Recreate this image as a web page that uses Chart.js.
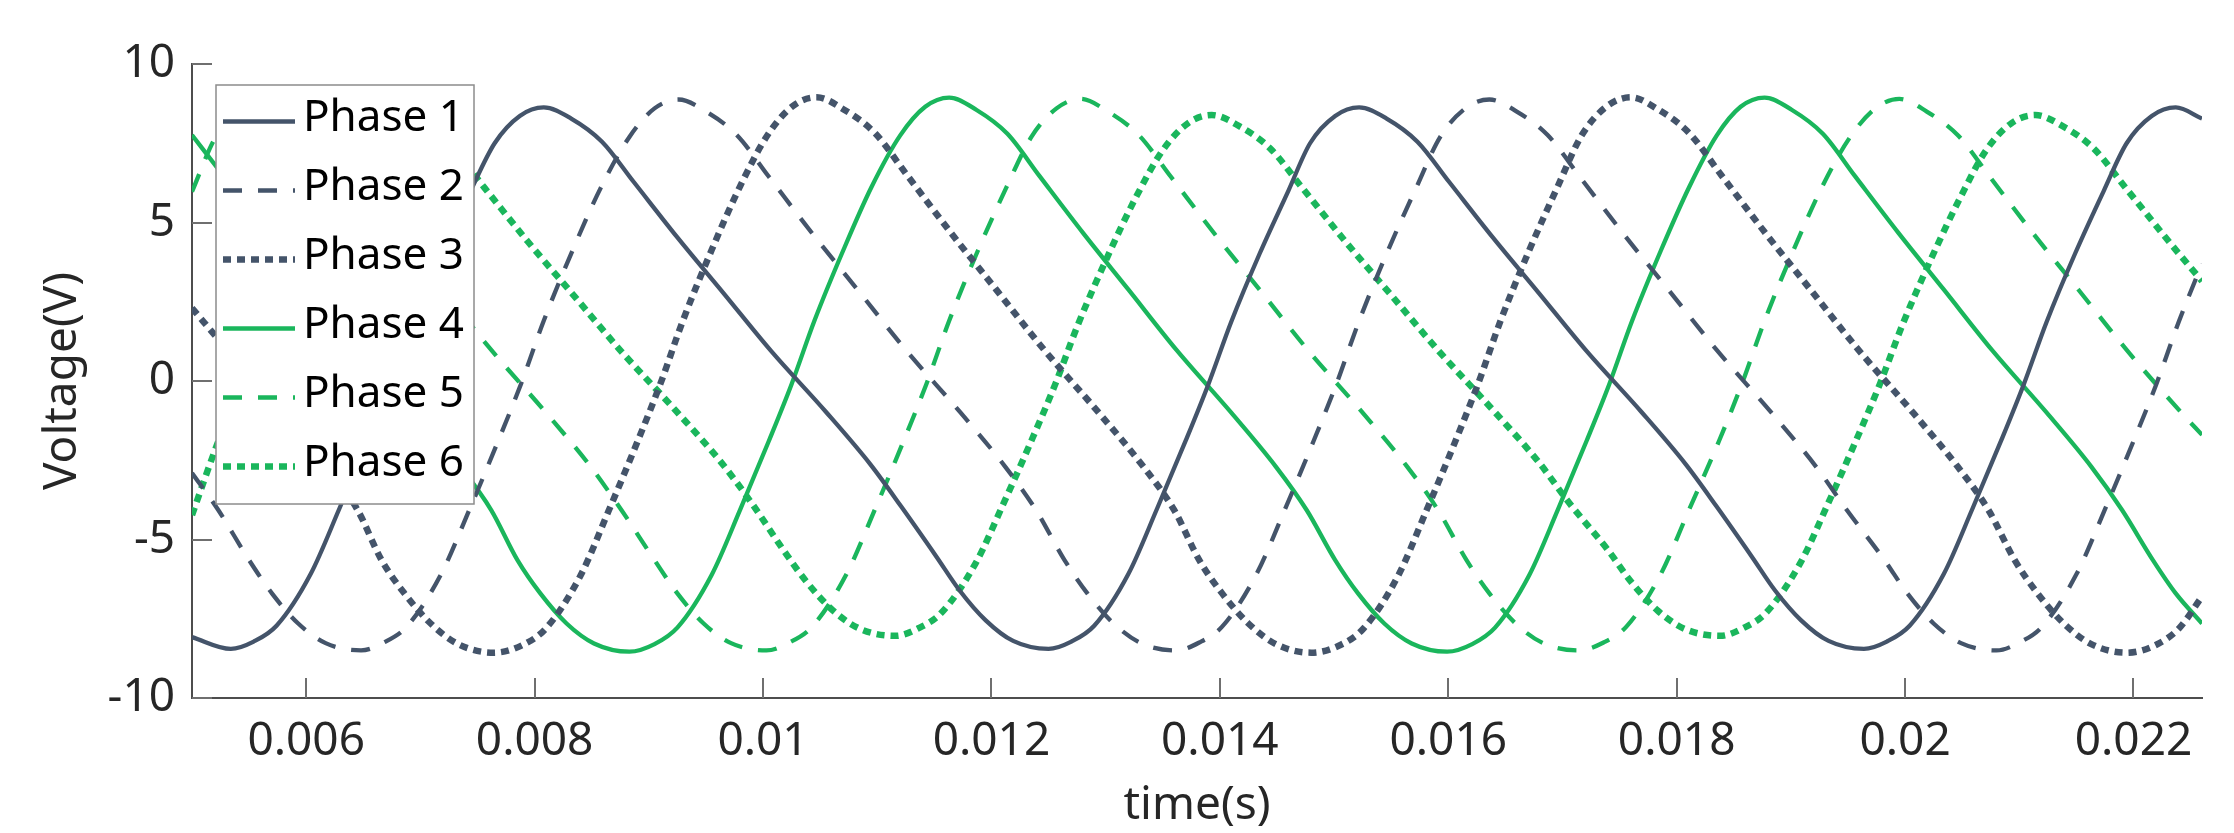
<!DOCTYPE html>
<html>
<head>
<meta charset="utf-8">
<title>Phase voltages</title>
<script src="https://cdn.jsdelivr.net/npm/chart.js@4.4.1/dist/chart.umd.min.js"></script>
<style>
  html, body { margin: 0; padding: 0; background: #fff; }
  #chart { display: block; }
</style>
</head>
<body>
<canvas id="chart" width="2234" height="833"></canvas>
<script>
// axis setup
const xMin = 0.005;
const xMax = 0.0226;
const xTicks = [0.006, 0.008, 0.010, 0.012, 0.014, 0.016, 0.018, 0.020, 0.022];
const xTickLabels = ['0.006', '0.008', '0.01', '0.012', '0.014', '0.016', '0.018', '0.02', '0.022'];
const yTicks = [-10, -5, 0, 5, 10];
const yTickLabels = ['-10', '-5', '0', '5', '10'];

const seriesNames = ['Phase 1', 'Phase 2', 'Phase 3', 'Phase 4', 'Phase 5', 'Phase 6'];

// time (s) / voltage (V)
const phase1T = [0.00500,0.00534,0.00554,0.00574,0.00604,0.00629,0.00654,0.00674,0.00694,0.00719,0.00744,0.00765,0.00787,0.00808,0.00832,0.00859,0.00887,0.00925,0.00965,0.01007,0.01055,0.01094,0.01121,0.01152,0.01172,0.01195,0.01219,0.01250,0.01270,0.01290,0.01320,0.01345,0.01370,0.01390,0.01410,0.01435,0.01460,0.01479,0.01501,0.01522,0.01546,0.01573,0.01601,0.01639,0.01679,0.01721,0.01769,0.01808,0.01835,0.01866,0.01886,0.01909,0.01933,0.01964,0.01984,0.02004,0.02034,0.02059,0.02084,0.02104,0.02124,0.02149,0.02174,0.02194,0.02216,0.02237,0.02260];
const phase1V = [-8.08,-8.45,-8.22,-7.72,-6.08,-4.03,-1.89,-0.10,1.87,4.03,6.00,7.50,8.36,8.63,8.28,7.55,6.27,4.53,2.79,0.95,-0.97,-2.63,-3.96,-5.55,-6.60,-7.55,-8.20,-8.45,-8.22,-7.72,-6.08,-4.03,-1.89,-0.10,1.87,4.03,6.00,7.50,8.36,8.63,8.28,7.55,6.27,4.53,2.79,0.95,-0.97,-2.63,-3.96,-5.55,-6.60,-7.55,-8.20,-8.45,-8.22,-7.72,-6.08,-4.03,-1.89,-0.10,1.87,4.03,6.00,7.50,8.36,8.63,8.28];

const phase2T = [0.00500,0.00523,0.00550,0.00570,0.00593,0.00617,0.00648,0.00668,0.00688,0.00718,0.00743,0.00768,0.00788,0.00808,0.00833,0.00858,0.00883,0.00905,0.00926,0.00950,0.00977,0.01005,0.01043,0.01083,0.01125,0.01173,0.01212,0.01239,0.01264,0.01284,0.01307,0.01331,0.01362,0.01382,0.01402,0.01432,0.01457,0.01482,0.01502,0.01522,0.01547,0.01572,0.01593,0.01615,0.01636,0.01660,0.01687,0.01715,0.01753,0.01793,0.01835,0.01883,0.01922,0.01949,0.01982,0.02002,0.02025,0.02049,0.02080,0.02100,0.02120,0.02150,0.02175,0.02200,0.02220,0.02240,0.02260];
const phase2V = [-2.90,-4.07,-5.65,-6.70,-7.65,-8.27,-8.50,-8.25,-7.75,-6.10,-4.05,-1.90,-0.10,1.90,4.10,6.10,7.70,8.60,8.88,8.50,7.76,6.45,4.66,2.87,0.98,-1.00,-2.70,-4.07,-5.65,-6.70,-7.65,-8.27,-8.50,-8.25,-7.75,-6.10,-4.05,-1.90,-0.10,1.90,4.10,6.10,7.70,8.60,8.88,8.50,7.76,6.45,4.66,2.87,0.98,-1.00,-2.70,-4.07,-5.65,-6.70,-7.65,-8.27,-8.50,-8.25,-7.75,-6.10,-4.05,-1.90,-0.10,1.90,3.70];

const phase3T = [0.00500,0.00531,0.00579,0.00618,0.00645,0.00666,0.00686,0.00709,0.00733,0.00764,0.00790,0.00810,0.00840,0.00865,0.00890,0.00910,0.00930,0.00955,0.00980,0.01004,0.01026,0.01047,0.01071,0.01098,0.01126,0.01164,0.01204,0.01246,0.01294,0.01333,0.01360,0.01382,0.01402,0.01425,0.01449,0.01480,0.01506,0.01526,0.01556,0.01581,0.01606,0.01626,0.01646,0.01671,0.01696,0.01717,0.01739,0.01760,0.01784,0.01811,0.01839,0.01877,0.01917,0.01959,0.02007,0.02046,0.02073,0.02096,0.02116,0.02139,0.02163,0.02194,0.02220,0.02240,0.02260];
const phase3V = [2.30,0.98,-1.00,-2.70,-4.07,-5.65,-6.70,-7.65,-8.30,-8.57,-8.32,-7.80,-6.15,-4.08,-1.92,-0.10,1.92,4.13,6.15,7.76,8.67,8.95,8.56,7.82,6.50,4.70,2.89,0.99,-1.00,-2.70,-4.07,-5.65,-6.70,-7.65,-8.30,-8.57,-8.32,-7.80,-6.15,-4.08,-1.92,-0.10,1.92,4.13,6.15,7.76,8.67,8.95,8.56,7.82,6.50,4.70,2.89,0.99,-1.00,-2.70,-4.07,-5.65,-6.70,-7.65,-8.30,-8.57,-8.32,-7.80,-6.80];

const phase4T = [0.00500,0.00528,0.00566,0.00606,0.00648,0.00696,0.00735,0.00762,0.00785,0.00805,0.00828,0.00852,0.00883,0.00905,0.00925,0.00955,0.00980,0.01005,0.01025,0.01045,0.01070,0.01095,0.01120,0.01142,0.01163,0.01187,0.01214,0.01242,0.01280,0.01320,0.01362,0.01410,0.01449,0.01476,0.01501,0.01521,0.01544,0.01568,0.01599,0.01621,0.01641,0.01671,0.01696,0.01721,0.01741,0.01761,0.01786,0.01811,0.01835,0.01856,0.01877,0.01901,0.01928,0.01956,0.01994,0.02034,0.02076,0.02124,0.02163,0.02190,0.02217,0.02237,0.02260];
const phase4V = [7.76,6.45,4.66,2.87,0.98,-1.00,-2.70,-4.07,-5.65,-6.70,-7.65,-8.28,-8.54,-8.30,-7.78,-6.12,-4.06,-1.90,-0.10,1.90,4.10,6.12,7.74,8.65,8.94,8.55,7.80,6.47,4.68,2.88,0.98,-1.00,-2.70,-4.07,-5.65,-6.70,-7.65,-8.28,-8.54,-8.30,-7.78,-6.12,-4.06,-1.90,-0.10,1.90,4.10,6.12,7.74,8.65,8.94,8.55,7.80,6.47,4.68,2.88,0.98,-1.00,-2.70,-4.07,-5.65,-6.70,-7.65];

const phase5T = [0.00500,0.00520,0.00542,0.00563,0.00587,0.00614,0.00642,0.00680,0.00720,0.00762,0.00810,0.00849,0.00876,0.00905,0.00925,0.00948,0.00972,0.01003,0.01023,0.01043,0.01073,0.01098,0.01123,0.01143,0.01163,0.01188,0.01213,0.01235,0.01257,0.01278,0.01302,0.01329,0.01357,0.01395,0.01435,0.01477,0.01525,0.01564,0.01591,0.01616,0.01636,0.01659,0.01683,0.01714,0.01736,0.01756,0.01786,0.01811,0.01837,0.01857,0.01877,0.01902,0.01927,0.01952,0.01974,0.01995,0.02019,0.02046,0.02074,0.02112,0.02152,0.02194,0.02242,0.02260];
const phase5V = [5.97,7.65,8.58,8.90,8.50,7.76,6.45,4.66,2.87,0.98,-1.00,-2.70,-4.07,-5.65,-6.70,-7.65,-8.27,-8.50,-8.25,-7.75,-6.10,-4.05,-1.90,-0.10,1.90,4.10,6.10,7.70,8.60,8.90,8.50,7.76,6.45,4.66,2.87,0.98,-1.00,-2.70,-4.07,-5.65,-6.70,-7.65,-8.27,-8.50,-8.25,-7.75,-6.10,-4.05,-1.90,-0.10,1.90,4.10,6.10,7.70,8.60,8.90,8.50,7.76,6.45,4.66,2.87,0.98,-1.00,-1.70];

const phase6T = [0.00500,0.00522,0.00542,0.00562,0.00587,0.00612,0.00635,0.00656,0.00677,0.00701,0.00728,0.00756,0.00794,0.00834,0.00876,0.00924,0.00963,0.00990,0.01018,0.01038,0.01061,0.01085,0.01116,0.01136,0.01156,0.01186,0.01211,0.01236,0.01256,0.01276,0.01301,0.01326,0.01350,0.01372,0.01393,0.01417,0.01444,0.01472,0.01510,0.01550,0.01592,0.01640,0.01679,0.01706,0.01740,0.01760,0.01783,0.01807,0.01838,0.01858,0.01878,0.01908,0.01933,0.01958,0.01978,0.01998,0.02023,0.02048,0.02071,0.02093,0.02114,0.02138,0.02165,0.02193,0.02231,0.02260];
const phase6V = [-4.23,-2.00,-0.20,1.70,3.80,5.72,7.26,8.12,8.39,8.04,7.34,6.10,4.40,2.71,0.93,-0.95,-2.55,-3.85,-5.34,-6.33,-7.23,-7.82,-8.04,-7.80,-7.32,-5.76,-3.83,-1.80,-0.09,1.80,3.87,5.76,7.28,8.13,8.39,8.04,7.34,6.10,4.40,2.71,0.93,-0.95,-2.55,-3.85,-5.34,-6.33,-7.23,-7.82,-8.04,-7.80,-7.32,-5.76,-3.83,-1.80,-0.09,1.80,3.87,5.76,7.28,8.13,8.39,8.04,7.34,6.10,4.40,3.15];

const NAVY = '#44546A';
const GREEN = '#1AB65C';
const FONT = '"Noto Sans", "Open Sans", sans-serif';

function toPoints(ts, vs) {
  return ts.map((t, i) => ({ x: t, y: vs[i] }));
}

function lineSet(label, ts, vs, color, width, dash) {
  return {
    label,
    data: toPoints(ts, vs),
    borderColor: color,
    borderWidth: width,
    borderDash: dash,
    pointRadius: 0,
    fill: false,
    cubicInterpolationMode: 'monotone',
    clip: 0
  };
}

// MATLAB style: ticks point into the plot
const innerTicks = {
  id: 'innerTicks',
  afterDatasetsDraw(chart) {
    const { ctx, chartArea: a, scales: { x, y } } = chart;
    ctx.save();
    ctx.strokeStyle = '#6f6f6f';
    ctx.lineWidth = 2;
    ctx.beginPath();
    x.ticks.forEach(t => {
      const px = Math.round(x.getPixelForValue(t.value));
      ctx.moveTo(px, a.bottom);
      ctx.lineTo(px, a.bottom - 20);
    });
    y.ticks.forEach(t => {
      const py = Math.round(y.getPixelForValue(t.value));
      ctx.moveTo(a.left, py);
      ctx.lineTo(a.left + 20, py);
    });
    ctx.stroke();
    ctx.restore();
  }
};

// boxed legend in the upper-left corner of the axes
const boxLegend = {
  id: 'boxLegend',
  afterDraw(chart) {
    const ctx = chart.ctx;
    const left = 216, top = 85, w = 258, h = 419;
    ctx.save();
    ctx.fillStyle = '#fff';
    ctx.fillRect(left, top, w, h);
    ctx.strokeStyle = '#8c8c8c';
    ctx.lineWidth = 1.5;
    ctx.strokeRect(left, top, w, h);
    chart.data.datasets.forEach((ds, i) => {
      const yy = 121.5 + i * 69;
      ctx.beginPath();
      ctx.setLineDash(ds.borderDash);
      ctx.lineWidth = ds.borderWidth;
      ctx.strokeStyle = ds.borderColor;
      ctx.moveTo(223, yy);
      ctx.lineTo(295, yy);
      ctx.stroke();
      ctx.setLineDash([]);
      ctx.fillStyle = '#000';
      ctx.font = `44px ${FONT}`;
      ctx.textBaseline = 'middle';
      ctx.textAlign = 'left';
      ctx.fillText(ds.label, 303, yy - 3);
    });
    ctx.restore();
  }
};

Chart.defaults.font.family = FONT;
Chart.defaults.color = '#262626';

new Chart(document.getElementById('chart').getContext('2d'), {
  type: 'line',
  data: {
    datasets: [
      lineSet(seriesNames[0], phase1T, phase1V, NAVY, 4.3, []),
      lineSet(seriesNames[1], phase2T, phase2V, NAVY, 4.3, [19, 16]),
      lineSet(seriesNames[2], phase3T, phase3V, NAVY, 6.5, [8, 6]),
      lineSet(seriesNames[3], phase4T, phase4V, GREEN, 4.3, []),
      lineSet(seriesNames[4], phase5T, phase5V, GREEN, 4.3, [19, 16]),
      lineSet(seriesNames[5], phase6T, phase6V, GREEN, 6.5, [8, 6])
    ]
  },
  options: {
    responsive: false,
    animation: false,
    devicePixelRatio: 1,
    layout: { padding: { top: 64, right: 32, bottom: 0, left: 0 } },
    plugins: { legend: { display: false }, tooltip: { enabled: false } },
    scales: {
      x: {
        type: 'linear',
        min: xMin,
        max: xMax,
        afterBuildTicks: s => { s.ticks = xTicks.map(v => ({ value: v })); },
        afterFit: s => { s.height = 135; },
        grid: { drawOnChartArea: false, drawTicks: false },
        border: { display: true, color: '#4d4d4d', width: 2 },
        ticks: {
          autoSkip: false,
          maxRotation: 0,
          padding: 16,
          color: '#262626',
          font: { size: 46 },
          callback: (v, i) => xTickLabels[i]
        },
        title: {
          display: true,
          text: 'time(s)',
          color: '#262626',
          font: { size: 46 },
          padding: { top: 0, bottom: 0 }
        }
      },
      y: {
        min: -10,
        max: 10,
        afterBuildTicks: s => { s.ticks = yTicks.map(v => ({ value: v })); },
        afterFit: s => { s.width = 192; },
        grid: { drawOnChartArea: false, drawTicks: false },
        border: { display: true, color: '#4d4d4d', width: 2 },
        ticks: {
          padding: 17,
          color: '#262626',
          font: { size: 46 },
          callback: (v, i) => yTickLabels[i]
        },
        title: {
          display: true,
          text: 'Voltage(V)',
          color: '#262626',
          font: { size: 46 },
          padding: { top: 35, bottom: 0 }
        }
      }
    }
  },
  plugins: [innerTicks, boxLegend]
});
</script>
</body>
</html>
